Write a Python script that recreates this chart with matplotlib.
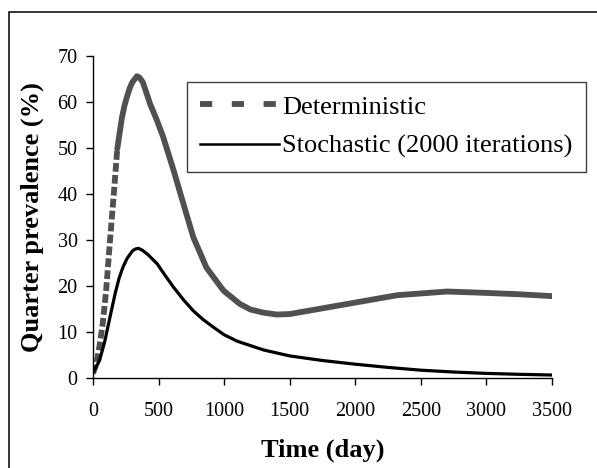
"""
plot.py

Quarter prevalence over time: deterministic model against the mean of
2000 stochastic iterations.
"""

import matplotlib
matplotlib.use("Agg")

import matplotlib.pyplot as plt
from matplotlib.lines import Line2D
from matplotlib.patches import Rectangle

# Deterministic model
det_days = [0, 25, 50, 75, 100, 130, 160, 185, 220, 240, 260, 280, 300,
            335, 355, 380, 405, 435, 485, 535, 615, 690, 765, 865, 995,
            1120, 1200, 1300, 1400, 1500, 1680, 2000, 2320, 2700, 3000,
            3250, 3500]
det_prev = [1.0, 3.0, 7.0, 12.0, 19.0, 30.0, 40.5, 49.8, 56.5, 59.2, 61.2,
            63.0, 64.3, 65.6, 65.3, 64.3, 62.2, 59.6, 56.2, 52.4, 45.1,
            37.8, 30.6, 24.0, 19.0, 16.1, 14.9, 14.2, 13.8, 13.9, 14.8,
            16.4, 18.0, 18.8, 18.5, 18.2, 17.8]

# Stochastic model, mean of 2000 iterations
sto_days = [0, 50, 90, 130, 170, 200, 230, 260, 300, 320, 345, 375, 420,
            490, 550, 615, 690, 765, 840, 920, 1000, 1100, 1300, 1500,
            1750, 2000, 2250, 2500, 2750, 3000, 3250, 3500]
sto_prev = [1.2, 3.8, 8.0, 13.3, 18.5, 21.8, 24.2, 26.0, 27.6, 28.0, 28.2,
            27.8, 26.8, 24.8, 22.3, 19.7, 17.0, 14.6, 12.7, 11.0, 9.4, 8.0,
            6.1, 4.8, 3.8, 3.0, 2.3, 1.7, 1.3, 1.0, 0.8, 0.65]

x_ticks = [0, 500, 1000, 1500, 2000, 2500, 3000, 3500]
y_ticks = [0, 10, 20, 30, 40, 50, 60, 70]

GRAY = "#505050"

plt.rcParams["font.family"] = ["Liberation Serif", "DejaVu Serif"]

fig = plt.figure(figsize=(5.97, 4.68), dpi=100)
ax = fig.add_axes([93 / 597, 1 - 378 / 468, 459 / 597, 322 / 468])

# Excel restarts the dash pattern on each segment, so only the steep
# rising part of the deterministic curve shows visible dashes
split = 7
ax.plot(det_days[:split + 1], det_prev[:split + 1], color=GRAY, lw=4.2,
        dashes=(1.5, 0.55), dash_capstyle="butt", solid_capstyle="round")
ax.plot(det_days[split:], det_prev[split:], color=GRAY, lw=4.2,
        solid_capstyle="round", solid_joinstyle="round")
ax.plot(sto_days, sto_prev, color="black", lw=2.3,
        solid_joinstyle="round", solid_capstyle="round")

ax.set_xlim(0, 3500)
ax.set_ylim(0, 70)
ax.set_xticks(x_ticks)
ax.set_yticks(y_ticks)
ax.tick_params(axis="x", direction="out", length=5, width=1, pad=12,
               labelsize=14.5)
ax.tick_params(axis="y", direction="out", length=5, width=1, pad=6,
               labelsize=14.5)
for side in ["top", "right"]:
    ax.spines[side].set_visible(False)
for side in ["left", "bottom"]:
    ax.spines[side].set_linewidth(1)

ax.set_xlabel("Time (day)", fontsize=19, fontweight="bold", va="center")
ax.set_ylabel("Quarter prevalence (%)", fontsize=19, fontweight="bold",
              va="center")
ax.xaxis.set_label_coords(0.5, -0.226)
ax.yaxis.set_label_coords(-0.133, 0.5)

# Legend built from proxy handles so the dashed key looks like Excel's
handles = [
    Line2D([], [], color=GRAY, lw=4.2, dashes=(2.1, 3.35),
           dash_capstyle="butt"),
    Line2D([], [], color="black", lw=1.8),
]
labels = ["Deterministic", "Stochastic (2000 iterations)"]
leg = ax.legend(handles, labels, loc="upper left",
                bbox_to_anchor=(187 / 597, 1 - 82 / 468),
                bbox_transform=fig.transFigure, fontsize=19,
                handlelength=3.0, handletextpad=0.1, labelspacing=0.6,
                borderpad=0.5, borderaxespad=0, fancybox=False,
                framealpha=1, edgecolor="#404040")
leg.get_frame().set_linewidth(1)

# Outer frame around the chart area (left and top edges visible)
fig.add_artist(Rectangle((8.5 / 597, -0.05), 1.1, 1 - 11.5 / 468 + 0.05,
                         transform=fig.transFigure, fill=False,
                         edgecolor="black", lw=1.1))

fig.savefig("out.png", dpi=100)
plt.close(fig)
